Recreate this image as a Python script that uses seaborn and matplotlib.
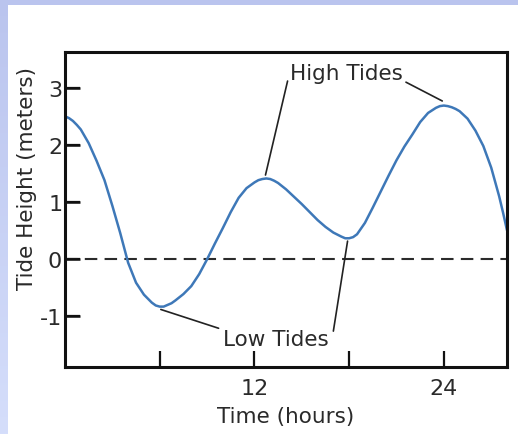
import numpy as np
import pandas as pd
import matplotlib
matplotlib.use("Agg")
import matplotlib.pyplot as plt
from matplotlib.patches import Rectangle
from matplotlib.colors import LinearSegmentedColormap
import seaborn as sns

# ---- data ----
time_h = [0.0, 0.25, 0.5, 0.75, 1.0, 1.5, 2.0, 2.5, 3.0, 3.5, 4.0, 4.5, 5.0,
          5.5, 5.75, 6.0, 6.25, 6.5, 6.75, 7.0, 7.5, 8.0, 8.5, 9.0, 9.5,
          10.0, 10.5, 11.0, 11.5, 12.0, 12.25, 12.5, 12.75, 13.0, 13.25,
          13.5, 14.0, 14.5, 15.0, 15.5, 16.0, 16.5, 17.0, 17.5, 17.75, 18.0,
          18.25, 18.5, 19.0, 19.5, 20.0, 20.5, 21.0, 21.5, 22.0, 22.5, 23.0,
          23.5, 23.75, 24.0, 24.25, 24.5, 24.75, 25.0, 25.5, 26.0, 26.5,
          27.0, 27.5, 27.75, 28.0]
tide_m = [2.50, 2.47, 2.42, 2.35, 2.27, 2.03, 1.72, 1.38, 0.93, 0.45, -0.07,
          -0.42, -0.63, -0.77, -0.82, -0.84, -0.84, -0.81, -0.78, -0.73,
          -0.62, -0.48, -0.27, -0.01, 0.27, 0.54, 0.82, 1.07, 1.24, 1.34,
          1.38, 1.40, 1.41, 1.40, 1.37, 1.33, 1.22, 1.09, 0.96, 0.82, 0.68,
          0.56, 0.46, 0.39, 0.36, 0.36, 0.38, 0.43, 0.63, 0.90, 1.18, 1.46,
          1.73, 1.97, 2.18, 2.40, 2.56, 2.65, 2.68, 2.69, 2.68, 2.66, 2.63,
          2.59, 2.46, 2.25, 1.98, 1.60, 1.10, 0.81, 0.50]
x_ticks = [6, 12, 18, 24]
x_tick_labels = ["", "12", "", "24"]
y_ticks = [-1, 0, 1, 2, 3]
y_tick_labels = ["-1", "0", "1", "2", "3"]
x_label = "Time (hours)"
y_label = "Tide Height (meters)"
high_label = "High Tides"
low_label = "Low Tides"

df = pd.DataFrame({"time": time_h, "height": tide_m})

sns.set_style("white")
plt.rcParams.update({
    "font.family": ["DejaVu Sans"],
    "xtick.bottom": True, "ytick.left": True,
    "xtick.direction": "in", "ytick.direction": "in",
    "xtick.major.size": 11.5, "ytick.major.size": 11,
    "xtick.major.width": 1.6, "ytick.major.width": 1.6,
    "xtick.color": "#111111", "ytick.color": "#111111",
    "xtick.labelcolor": "#2a2a2a", "ytick.labelcolor": "#2a2a2a",
    "xtick.major.pad": 8, "ytick.major.pad": 2,
    "xtick.labelsize": 16, "ytick.labelsize": 16,
})

W, H = 518, 435
fig = plt.figure(figsize=(W / 100, H / 100), dpi=100)
fig.patch.set_facecolor("white")

# lavender frame strips (top and left)
grad_ax = fig.add_axes([0, 0, 8 / W, 1])
grad = np.linspace(0, 1, 256).reshape(-1, 1)
cm = LinearSegmentedColormap.from_list("lav", ["#BAC4EE", "#D5DEFB"])
grad_ax.imshow(grad, aspect="auto", cmap=cm, origin="upper")
grad_ax.set_axis_off()
fig.patches.append(Rectangle((0, 1 - 6 / H), 1, 6 / H, transform=fig.transFigure,
                             facecolor="#BAC4EE", edgecolor="none", zorder=0))

ax = fig.add_axes([65 / W, (H - 368) / H, (507 - 65) / W, (368 - 53) / H])
sns.lineplot(data=df, x="time", y="height", ax=ax, color="#3E78B8",
             linewidth=1.8, zorder=3)
ax.axhline(0, color="#2b2b2b", linewidth=1.5, linestyle=(0, (6, 3.5)), zorder=2)

ax.set_xlim(0, 28)
ax.set_ylim(-1.9, 3.63)
ax.set_xticks(x_ticks)
ax.set_xticklabels(x_tick_labels)
ax.set_yticks(y_ticks)
ax.set_yticklabels(y_tick_labels)
ax.tick_params(bottom=True, left=True, top=False, right=False)

# inward y tick marks, drawn on the y-axis transform (x in axes fraction)
ytrans = ax.get_yaxis_transform()
for v in y_ticks:
    ax.plot([0, 15 / (507 - 65)], [v, v], transform=ytrans, color="#111111",
            linewidth=1.8, solid_capstyle="butt", clip_on=False, zorder=4)

for s in ax.spines.values():
    s.set_visible(True)
    s.set_linewidth(2.2)
    s.set_color("#111111")
    s.set_zorder(5)

ax.set_xlabel(x_label, fontsize=15.5, color="#2a2a2a", labelpad=6)
ax.set_ylabel(y_label, fontsize=15.5, color="#2a2a2a")
ax.yaxis.set_label_coords(-0.063, 0.60)

# annotations
line_kw = dict(arrowstyle="-", color="#222222", lw=1.2, shrinkA=0, shrinkB=0)
ax.text(17.8, 3.27, high_label, fontsize=15.5, ha="center", va="center", color="#2a2a2a")
ax.annotate("", xy=(12.7, 1.47), xytext=(14.1, 3.12), arrowprops=line_kw)
ax.annotate("", xy=(23.9, 2.77), xytext=(21.6, 3.10), arrowprops=line_kw)
ax.text(13.35, -1.40, low_label, fontsize=15.5, ha="center", va="center", color="#2a2a2a")
ax.annotate("", xy=(6.07, -0.89), xytext=(9.73, -1.22), arrowprops=line_kw)
ax.annotate("", xy=(17.9, 0.31), xytext=(17.0, -1.27), arrowprops=line_kw)

fig.savefig("out.png", dpi=100)
